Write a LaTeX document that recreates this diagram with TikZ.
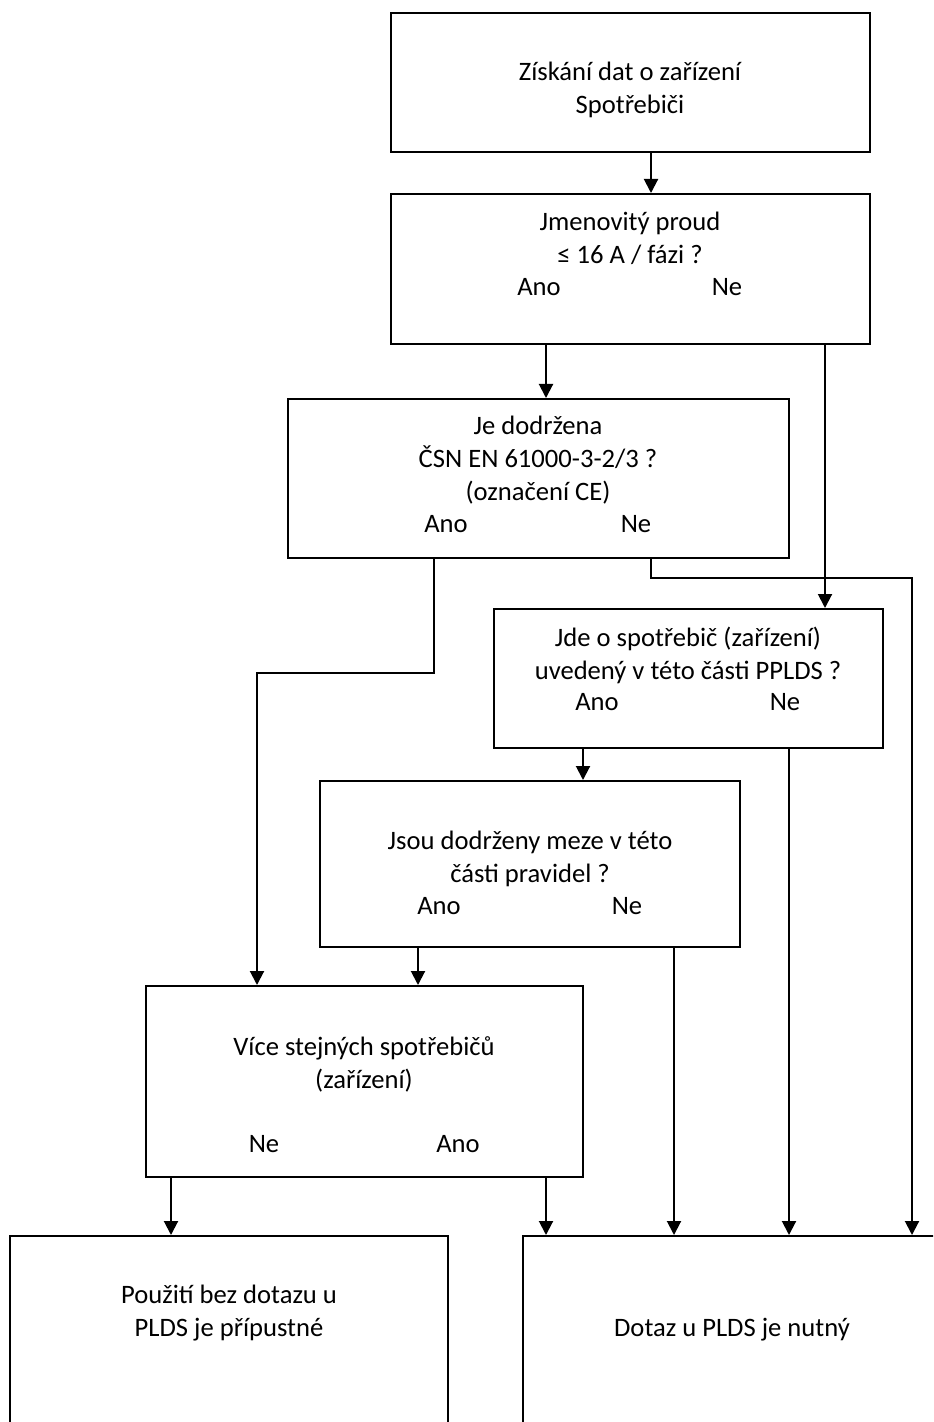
\documentclass[tikz,border=0pt]{standalone}
\usepackage{fontspec}
\setmainfont{Carlito}
\usetikzlibrary{arrows.meta}

\begin{document}
\begin{tikzpicture}
[x=0.5pt,y=-0.5pt,box/.style={draw,black,line width=1pt,inner sep=0pt},txt/.style={align=center,inner sep=0pt,font=\fontsize{13.3}{16.5}\selectfont},arrowline/.style={-{Triangle[length=7pt,width=7pt]},black,line width=1pt}]

\useasboundingbox (0,0) rectangle (933,1422);
\clip (0,0) rectangle (933,1422);

% ziskani dat
\node[box,minimum width=239.5pt,minimum height=69.5pt](ziskani) at (630.5,82.5){};
\node[txt](ziskanitext) at (630,89.5){Získání dat o zařízení\\Spotřebiči};

% jmenovity proud
\node[box,minimum width=239.5pt,minimum height=75pt](proud) at (630.5,269){};
\node[txt](proudtext) at (630,238.5){Jmenovitý proud\\≤ 16 A / fázi ?};
\node[txt](proudano) at (539,287){Ano};
\node[txt](proudne) at (727,287){Ne};
\draw[arrowline] (ziskani.south -| 651,0) -- (proud.north -| 651,0);

% norma CSN
\node[box,minimum width=250.5pt,minimum height=79.5pt](norma) at (538.5,478.5){};
\node[txt](normatext) at (538,460){Je dodržena\\ČSN EN 61000-3-2/3 ?\\(označení CE)};
\node[txt](normaano) at (446,524){Ano};
\node[txt](normane) at (636,524){Ne};
\draw[arrowline] (proud.south -| 546,0) -- (norma.north -| 546,0);

% spotrebic v PPLDS
\node[box,minimum width=194.5pt,minimum height=69.5pt](seznam) at (688.5,678.5){};
\node[txt](seznamtext) at (688,655.5){Jde o spotřebič (zařízení)\\uvedený v této části PPLDS ?};
\node[txt](seznamano) at (597,702){Ano};
\node[txt](seznamne) at (785,702){Ne};
\draw[arrowline] (proud.south -| 825,0) -- (seznam.north -| 825,0);

% meze pravidel
\node[box,minimum width=210pt,minimum height=83pt](meze) at (530,864){};
\node[txt](mezetext) at (530,858.5){Jsou dodrženy meze v této\\části pravidel ?};
\node[txt](mezeano) at (439,906){Ano};
\node[txt](mezene) at (627,906){Ne};
\draw[arrowline] (seznam.south -| 583,0) -- (meze.north -| 583,0);

% vice spotrebicu
\node[box,minimum width=218.5pt,minimum height=95.5pt](vice) at (364.5,1081.5){};
\node[txt](vicetext) at (364,1064){Více stejných spotřebičů\\(zařízení)};
\node[txt](vicene) at (264,1144){Ne};
\node[txt](viceano) at (458,1144){Ano};
\draw[arrowline] (meze.south -| 418,0) -- (vice.north -| 418,0);
\draw[arrowline] (norma.south -| 434,0) -- (434,673) -- (257,673) -- (vice.north -| 257,0);

% bez dotazu
\node[box,minimum width=219pt,minimum height=112pt](bezdotazu) at (229,1348){};
\node[txt](bezdotazutext) at (229,1313.5){Použití bez dotazu u\\PLDS je přípustné};
\draw[arrowline] (vice.south -| 171,0) -- (bezdotazu.north -| 171,0);

% dotaz nutny
\node[box,minimum width=218.5pt,minimum height=112pt](nutny) at (741.5,1348){};
\node[txt](nutnytext) at (732,1330){Dotaz u PLDS je nutný};
\draw[arrowline] (vice.south -| 546,0) -- (nutny.north -| 546,0);
\draw[arrowline] (meze.south -| 674,0) -- (nutny.north -| 674,0);
\draw[arrowline] (seznam.south -| 789,0) -- (nutny.north -| 789,0);
\draw[arrowline] (norma.south -| 651,0) -- (651,578) -- (912,578) -- (nutny.north -| 912,0);

\end{tikzpicture}
\end{document}
